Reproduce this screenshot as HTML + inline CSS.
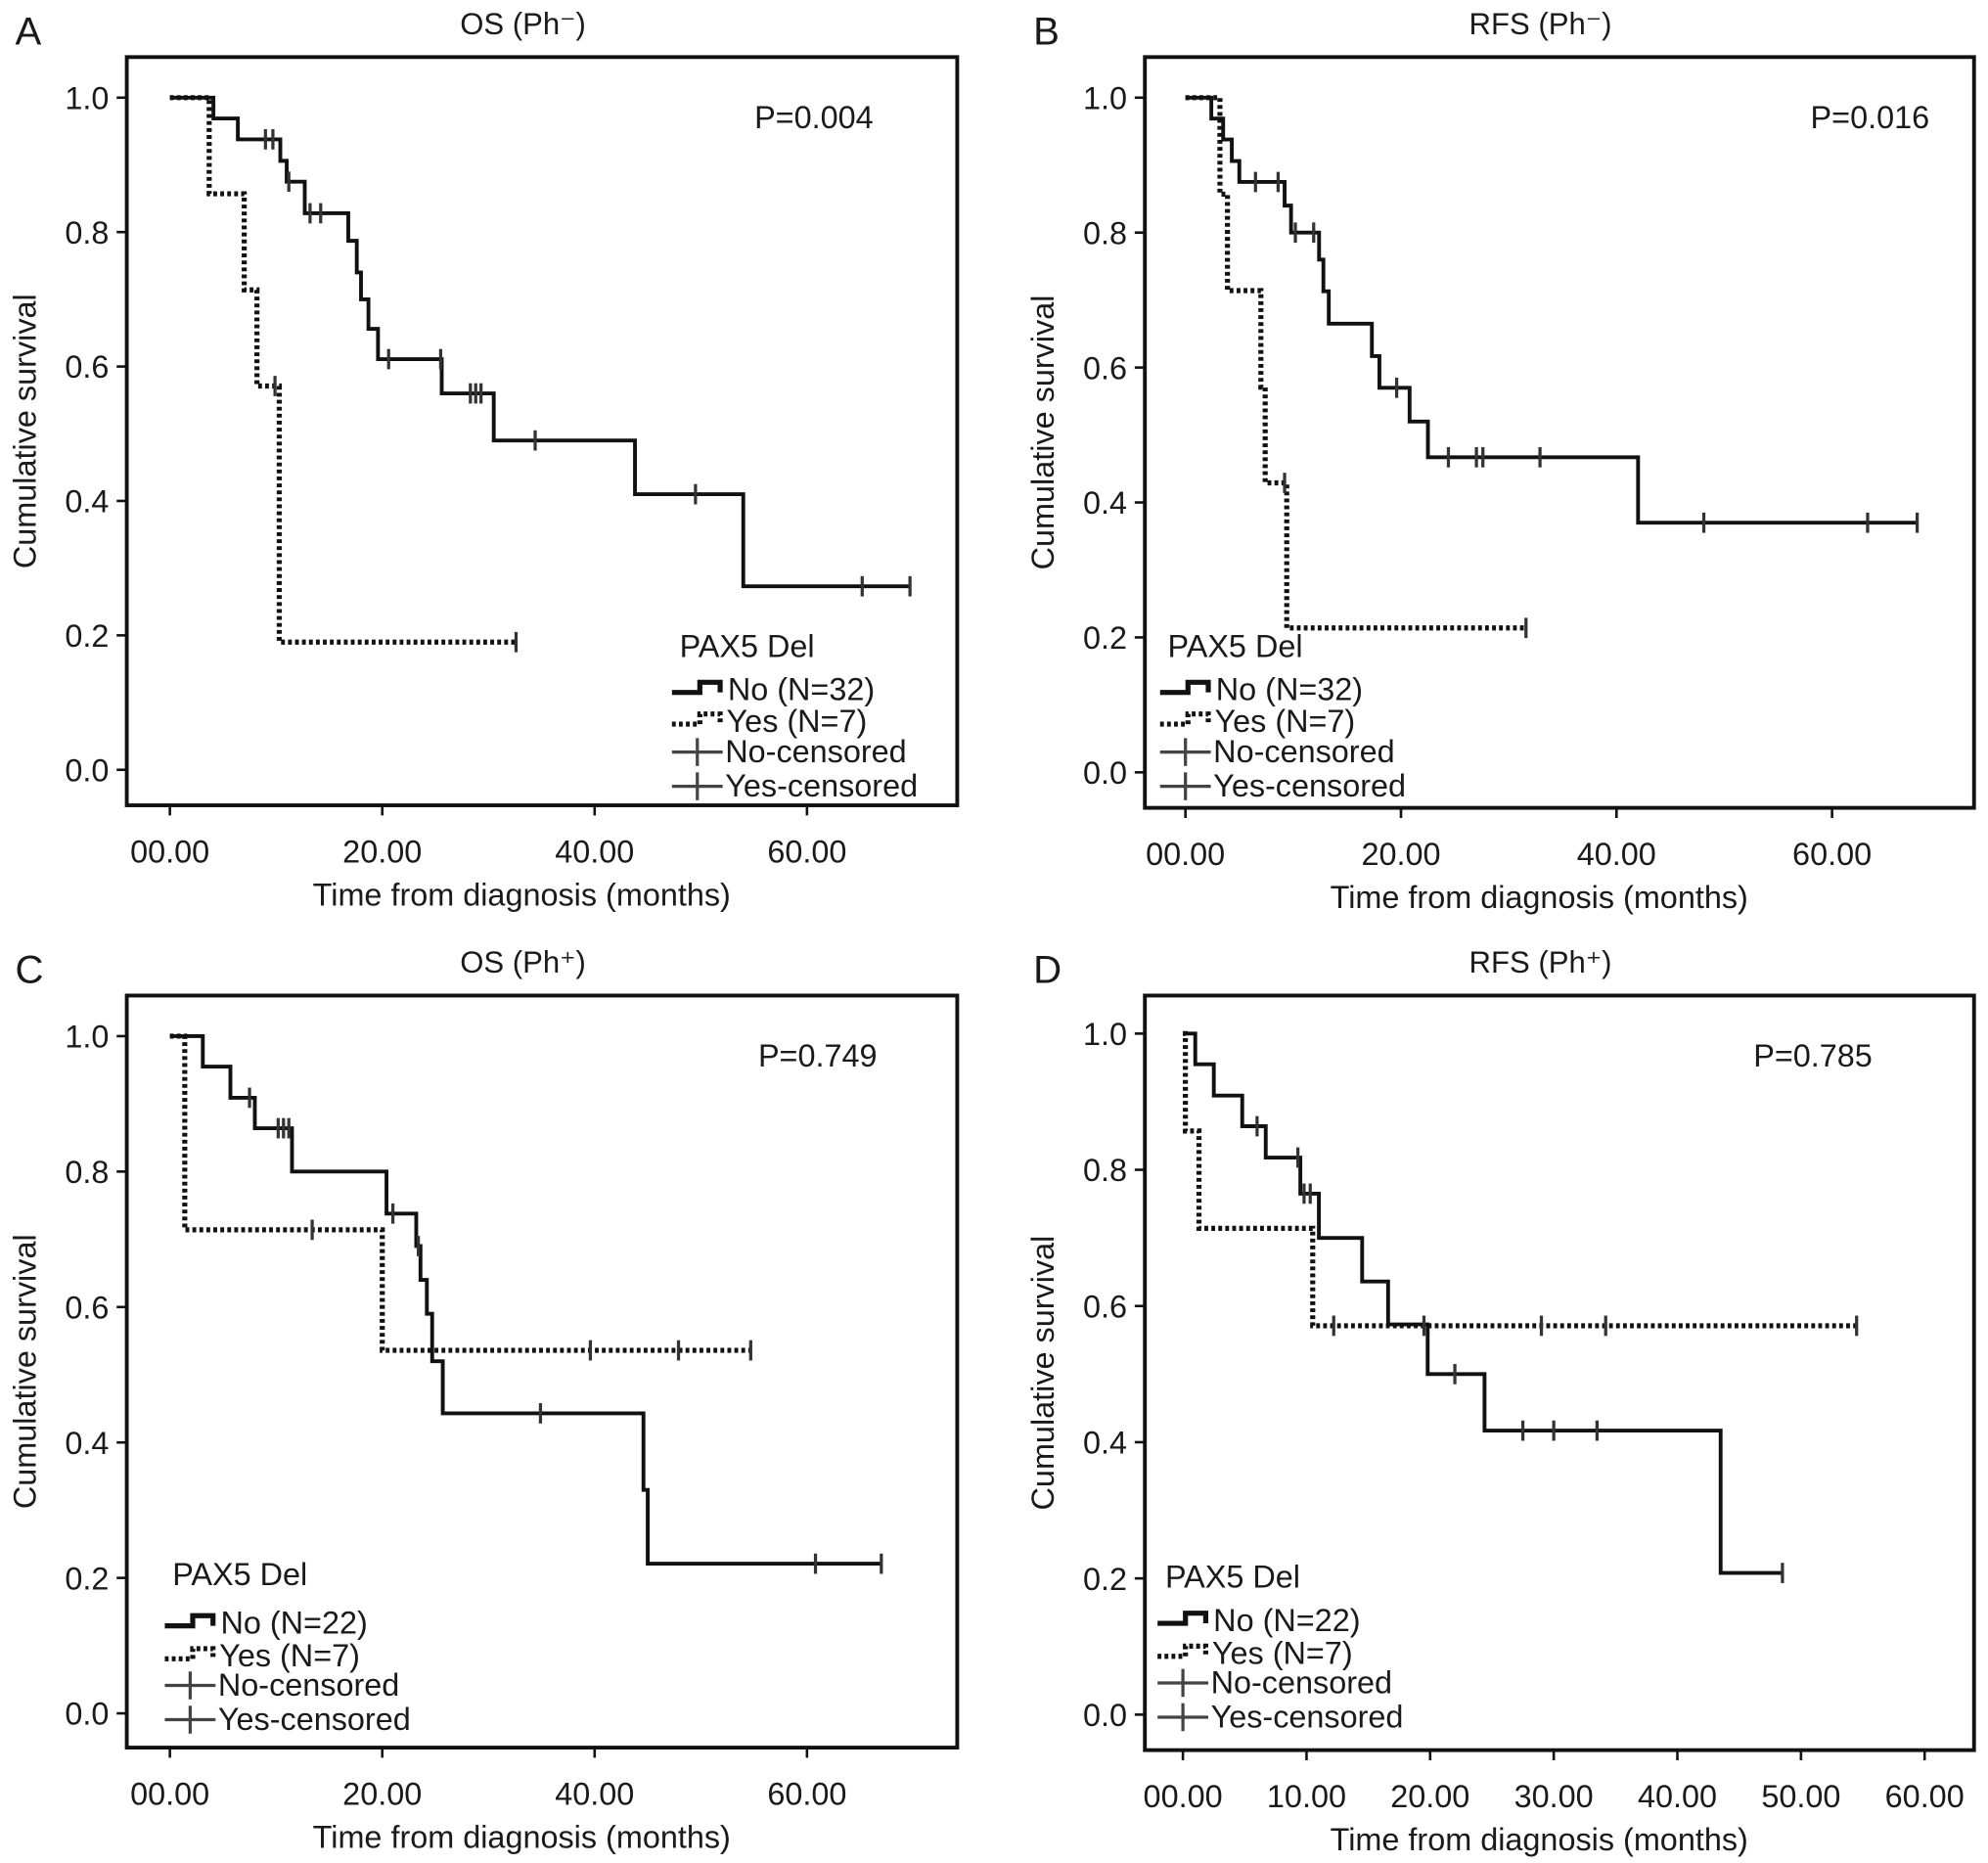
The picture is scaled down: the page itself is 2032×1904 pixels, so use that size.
<!DOCTYPE html>
<html><head><meta charset="utf-8"><style>
html,body{margin:0;padding:0;background:#fff}
svg{display:block}
text{font-family:"Liberation Sans","DejaVu Sans",sans-serif;fill:#1a1a1a}
</style></head><body>
<svg id="fig" xmlns="http://www.w3.org/2000/svg" width="2032" height="1904" viewBox="0 0 1568 1469" preserveAspectRatio="none"></svg>
<script>
// Panel A: OS (Ph-)
const aNoTimes=[0,4.1,6.4,10.4,11.0,12.7,16.8,17.6,18.0,18.7,19.6,25.6,30.5,43.8,54.0];
const aNoSurv=[1,0.969,0.938,0.906,0.875,0.828,0.787,0.74,0.70,0.656,0.611,0.56,0.49,0.41,0.273];
const aNoEnd=69.7;
const aNoCens=[9.0,9.7,11.2,13.2,14.2,20.6,25.5,28.3,28.8,29.3,34.4,49.5,65.2,69.7];
const aYesTimes=[0,3.7,7.0,8.2,10.3];
const aYesSurv=[1,0.857,0.714,0.571,0.190];
const aYesEnd=32.6;
const aYesCens=[9.9,32.6];
// Panel B: RFS (Ph-)
const bNoTimes=[0,2.4,3.5,4.3,5.0,9.2,9.8,12.4,12.8,13.3,17.3,18.0,20.8,22.5,42.0];
const bNoSurv=[1,0.969,0.938,0.906,0.875,0.84,0.80,0.76,0.713,0.665,0.617,0.57,0.52,0.467,0.37];
const bNoEnd=67.9;
const bNoCens=[6.5,8.6,10.2,11.9,19.6,24.4,27.0,27.6,32.9,48.1,63.3,67.9];
const bYesTimes=[0,3.2,3.9,7.0,7.4,9.4];
const bYesSurv=[1,0.857,0.714,0.571,0.429,0.214];
const bYesEnd=31.6;
const bYesCens=[9.2,31.6];
// Panel C: OS (Ph+)
const cNoTimes=[0,3.1,5.7,8.0,11.5,20.4,23.2,23.6,24.2,24.7,25.7,44.6,45.0];
const cNoSurv=[1,0.955,0.909,0.864,0.80,0.738,0.69,0.64,0.59,0.52,0.443,0.33,0.221];
const cNoEnd=67.0;
const cNoCens=[7.5,10.2,10.7,11.2,21.0,23.4,34.9,60.8,67.0];
const cYesTimes=[0,1.4,20.0];
const cYesSurv=[1,0.714,0.536];
const cYesEnd=54.7;
const cYesCens=[13.4,39.6,47.9,54.7];
// Panel D: RFS (Ph+)
const dNoTimes=[0,1.0,2.5,4.8,6.7,9.5,11.0,14.5,16.6,19.8,24.4,43.5];
const dNoSurv=[1,0.955,0.909,0.864,0.818,0.765,0.70,0.636,0.573,0.50,0.417,0.208];
const dNoEnd=48.5;
const dNoCens=[6.0,9.3,9.8,10.3,22.0,27.5,30.0,33.5,48.5];
const dYesTimes=[0,0.2,1.3,10.5];
const dYesSurv=[1,0.857,0.714,0.571];
const dYesEnd=54.5;
const dYesCens=[12.2,19.5,29.0,34.2,54.5];

const yTicks=[0,0.2,0.4,0.6,0.8,1.0];
const xTicksA=[0,20,40,60];
const xTicksD=[0,10,20,30,40,50,60];

const NS="http://www.w3.org/2000/svg";
const svg=document.getElementById('fig');
function mk(tag,attrs,parent){const e=document.createElementNS(NS,tag);for(const k in attrs)e.setAttribute(k,attrs[k]);(parent||svg).appendChild(e);return e;}
function txt(s,attrs,parent){const e=mk('text',attrs,parent);e.textContent=s;return e;}

const panels=[
 {id:'a',letter:'A',title:'OS (Ph\u207B)',p:'P=0.004',f:[100,45,755,635],x0:134,ppm:8.375,y0:607,y1:77,xt:xTicksA,
  no:[aNoTimes,aNoSurv,aNoEnd,aNoCens],yes:[aYesTimes,aYesSurv,aYesEnd,aYesCens],px:595,lg:[530,518,552,577,601,628]},
 {id:'b',letter:'B',title:'RFS (Ph\u207B)',p:'P=0.016',f:[903,45,1557,637],x0:935,ppm:8.5,y0:609,y1:77,xt:xTicksA,
  no:[bNoTimes,bNoSurv,bNoEnd,bNoCens],yes:[bYesTimes,bYesSurv,bYesEnd,bYesCens],px:1428,lg:[915,518,552,577,601,628]},
 {id:'c',letter:'C',title:'OS (Ph\u207A)',p:'P=0.749',f:[100,785,755,1378],x0:134,ppm:8.375,y0:1351,y1:817,xt:xTicksA,
  no:[cNoTimes,cNoSurv,cNoEnd,cNoCens],yes:[cYesTimes,cYesSurv,cYesEnd,cYesCens],px:598,lg:[130,1250,1288,1314,1337,1364]},
 {id:'d',letter:'D',title:'RFS (Ph\u207A)',p:'P=0.785',f:[903,785,1557,1380],x0:933,ppm:9.75,y0:1352,y1:815,xt:xTicksD,
  no:[dNoTimes,dNoSurv,dNoEnd,dNoCens],yes:[dYesTimes,dYesSurv,dYesEnd,dYesCens],px:1383,lg:[913,1252,1286,1312,1335,1362]}
];

function survAt(times,surv,t){let v=surv[0];for(let i=0;i<times.length;i++){if(times[i]<=t)v=surv[i];}return v;}

panels.forEach(P=>{
  const g=mk('g',{});
  
  
  const [L,T,R,B]=P.f;
  const X=t=>P.x0+t*P.ppm;
  const Y=v=>P.y0-(P.y0-P.y1)*v;
  const cx=(L+R)/2;
  const lt=txt(P.letter,{x:L-88,y:T-10,'font-size':31},g);
  
  
  const tt=txt(P.title,{x:cx-15,y:T-18,'font-size':24,'text-anchor':'middle'},g);
  
  
  const fr=mk('rect',{x:L,y:T,width:R-L,height:B-T,fill:'none',stroke:'#111','stroke-width':3},g);
  
  
  yTicks.forEach(v=>{
    mk('line',{x1:L-8,x2:L,y1:Y(v),y2:Y(v),stroke:'#111','stroke-width':2},g);
    const t=txt(v.toFixed(1),{x:L-14,y:Y(v)+9,'font-size':25,'text-anchor':'end'},g);
    
    
  });
  P.xt.forEach(v=>{
    mk('line',{x1:X(v),x2:X(v),y1:B,y2:B+8,stroke:'#111','stroke-width':2},g);
    const s=(v<10?'0':'')+v.toFixed(2);
    const t=txt(s,{x:X(v),y:B+45,'font-size':25,'text-anchor':'middle'},g);
    
    
  });
  const ya=txt('Cumulative survival',{x:0,y:0,'font-size':25,'text-anchor':'middle',transform:`translate(${L-72},${(T+B)/2}) rotate(-90)`},g);
  
  
  const xa=txt('Time from diagnosis (months)',{x:cx-16,y:B+79,'font-size':25,'text-anchor':'middle'},g);
  
  
  const pv=txt(P.p,{x:P.px,y:T+56,'font-size':25},g);
  
  
  [['no',P.no,'none','#111',3],['yes',P.yes,'3,2.5','#111',4]].forEach(([nm,d,dash,col,w])=>{
    const [times,surv,end,cens]=d;
    let path=`M${X(times[0])},${Y(surv[0])}`;
    for(let i=1;i<times.length;i++){path+=` H${X(times[i])} V${Y(surv[i])}`;}
    path+=` H${X(end)}`;
    const pe=mk('path',{d:path,fill:'none',stroke:col,'stroke-width':w,'stroke-dasharray':dash},g);
    
    
    cens.forEach(t=>{
      const v=survAt(times,surv,t);
      const c=mk('line',{x1:X(t),x2:X(t),y1:Y(v)-8,y2:Y(v)+8,stroke:'#333','stroke-width':2.5},g);
      
      
    });
  });
  const [lx,ty,r1,r2,r3,r4]=P.lg;
  const lgG=mk('g',{},g);
  
  
  txt('PAX5 Del',{x:lx+6,y:ty,'font-size':25},lgG);
  const sym=(yy,dash,w)=>mk('path',{d:`M${lx},${yy-6} H${lx+22} V${yy-14} H${lx+38} V${yy-6}`,fill:'none',stroke:'#111','stroke-width':w,'stroke-dasharray':dash},lgG);
  const e1=sym(r1,'none',4);
  txt('No (N='+(P.id==='a'||P.id==='b'?32:22)+')',{x:lx+44,y:r1,'font-size':25},lgG);
  const e2=sym(r2,'3,2.5',4);
  txt('Yes (N=7)',{x:lx+43,y:r2,'font-size':25},lgG);
  [[r3,'No-censored'],[r4,'Yes-censored']].forEach(([yy,s])=>{
    mk('line',{x1:lx,x2:lx+40,y1:yy-8,y2:yy-8,stroke:'#444','stroke-width':2.5},lgG);
    mk('line',{x1:lx+20,x2:lx+20,y1:yy-19,y2:yy+3,stroke:'#444','stroke-width':2.5},lgG);
    txt(s,{x:lx+42,y:yy,'font-size':25},lgG);
  });
});
</script>
</body></html>
